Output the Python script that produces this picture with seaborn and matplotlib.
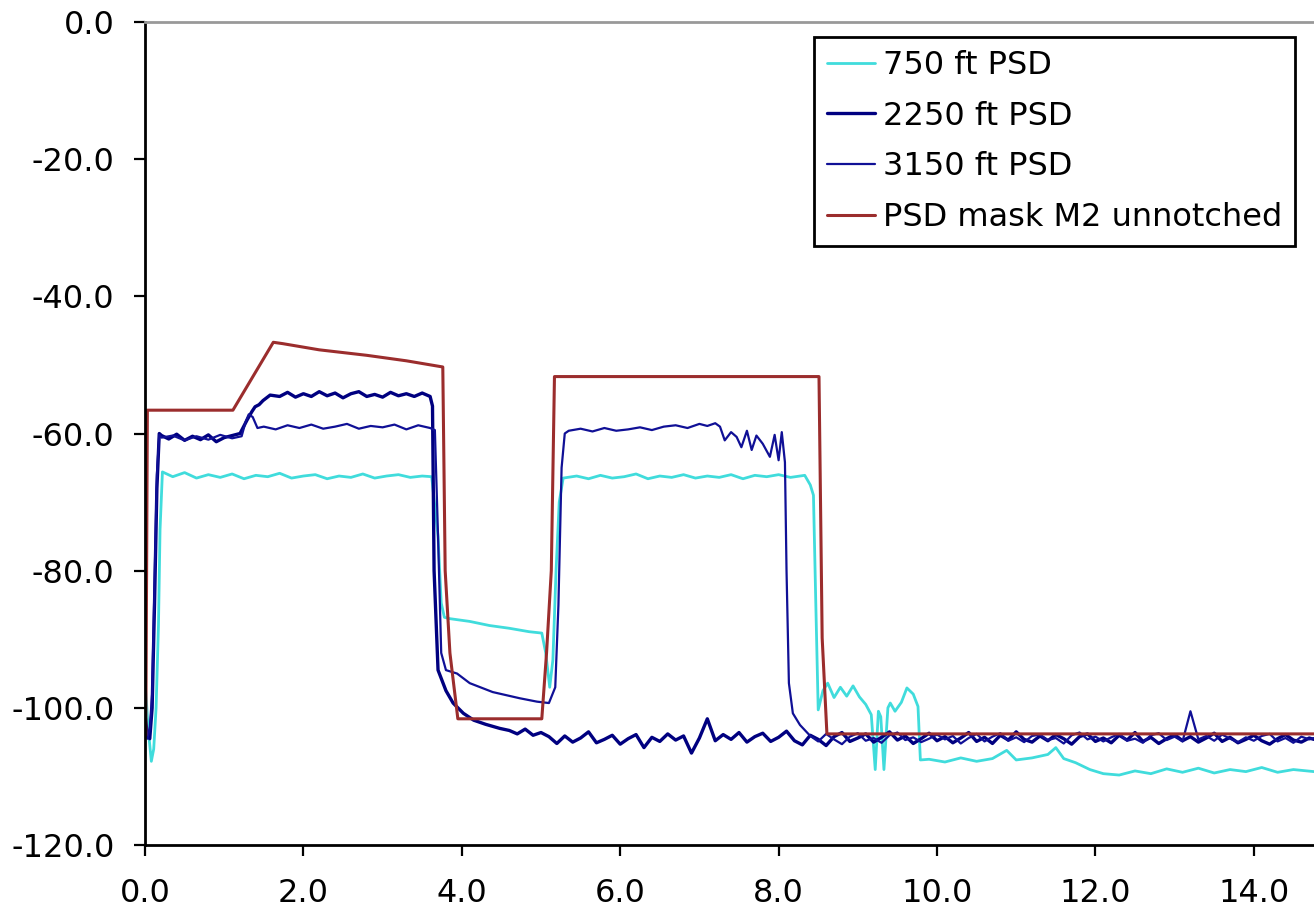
import matplotlib
matplotlib.use("Agg")
import matplotlib.pyplot as plt
import numpy as np
import pandas as pd
import seaborn as sns

##### data #####
# 750 ft PSD
psd750_x = [0.0, 0.04, 0.08, 0.11, 0.14, 0.17, 0.19, 0.22, 0.35, 0.5, 0.65, 0.8, 0.95, 1.1, 1.25, 1.4,
            1.55, 1.7, 1.85, 2.0, 2.15, 2.3, 2.45, 2.6, 2.75, 2.9, 3.05, 3.2, 3.35, 3.5, 3.62, 3.70,
            3.74, 3.78, 3.85, 4.1, 4.35, 4.6, 4.85, 5.01, 5.06, 5.11, 5.15, 5.19, 5.23, 5.28, 5.45, 5.6,
            5.75, 5.9, 6.05, 6.2, 6.35, 6.5, 6.65, 6.8, 6.95, 7.1, 7.25, 7.4, 7.55, 7.7, 7.85, 8.0,
            8.15, 8.33, 8.40, 8.44, 8.47, 8.50, 8.56, 8.62, 8.70, 8.78, 8.86, 8.94, 9.02, 9.10, 9.17, 9.22,
            9.26, 9.29, 9.33, 9.38, 9.41, 9.47, 9.55, 9.62, 9.70, 9.76, 9.79, 9.9, 10.1, 10.3, 10.5, 10.7,
            10.88, 11.0, 11.2, 11.4, 11.5, 11.6, 11.75, 11.93, 12.1, 12.3, 12.5, 12.7, 12.9, 13.1, 13.3, 13.5,
            13.7, 13.9, 14.1, 14.3, 14.5, 14.76]
psd750_y = [-96, -103, -107.8, -106, -100, -88, -74, -65.6, -66.3, -65.7, -66.5, -66.0, -66.4, -65.9, -66.6, -66.1,
            -66.3, -65.8, -66.5, -66.2, -66.0, -66.6, -66.2, -66.4, -65.9, -66.5, -66.2, -66.0, -66.4, -66.2, -66.3, -75,
            -84.7, -86.8, -87.0, -87.4, -88.0, -88.4, -88.9, -89.1, -92, -97, -93, -80, -70, -66.5, -66.2, -66.6,
            -66.1, -66.5, -66.3, -65.9, -66.6, -66.2, -66.4, -66.0, -66.5, -66.2, -66.4, -66.0, -66.6, -66.1, -66.3, -66.0,
            -66.4, -66.1, -67.5, -69, -85, -100.3, -97.5, -96.4, -98.5, -97.0, -98.3, -96.8, -98.4, -99.5, -101.0, -109,
            -100.5, -101.3, -109, -100.0, -99.3, -100.5, -99.2, -97.1, -98.0, -99.8, -107.6, -107.5, -107.9, -107.3, -107.8, -107.4,
            -106.2, -107.6, -107.3, -106.8, -105.8, -107.4, -108.0, -109.0, -109.6, -109.8, -109.2, -109.6, -108.9, -109.4, -108.8, -109.5,
            -109.0, -109.3, -108.7, -109.4, -109.0, -109.3]

# 2250 ft PSD
psd2250_x = [0.0, 0.03, 0.06, 0.09, 0.12, 0.15, 0.18, 0.21, 0.3, 0.4, 0.5, 0.6, 0.7, 0.8, 0.9, 1.0,
             1.1, 1.2, 1.29, 1.35, 1.39, 1.44, 1.49, 1.58, 1.7, 1.8, 1.9, 2.0, 2.1, 2.2, 2.3, 2.4,
             2.5, 2.6, 2.7, 2.8, 2.9, 3.0, 3.1, 3.2, 3.3, 3.4, 3.5, 3.6, 3.63, 3.65, 3.70, 3.8,
             3.89, 4.02, 4.15, 4.3, 4.48,
             4.6, 4.7, 4.8, 4.9, 5.0, 5.1, 5.2, 5.3, 5.4, 5.5, 5.6, 5.7, 5.8, 5.9, 6.0, 6.1,
             6.2, 6.3, 6.4, 6.5, 6.6, 6.7, 6.8, 6.9, 7.0, 7.1, 7.2, 7.3, 7.4, 7.5, 7.6, 7.7,
             7.8, 7.9, 8.0, 8.1, 8.2, 8.3, 8.4, 8.5, 8.6, 8.7, 8.8, 8.9, 9.0, 9.1, 9.2, 9.3,
             9.4, 9.5, 9.6, 9.7, 9.8, 9.9, 10.0, 10.1, 10.2, 10.3, 10.4, 10.5, 10.6, 10.7, 10.8, 10.9,
             11.0, 11.1, 11.2, 11.3, 11.4, 11.5, 11.6, 11.7, 11.8, 11.9, 12.0, 12.1, 12.2, 12.3, 12.4, 12.5,
             12.6, 12.7, 12.8, 12.9, 13.0, 13.1, 13.2, 13.3, 13.4, 13.5, 13.6, 13.7, 13.8, 13.9, 14.0, 14.1,
             14.2, 14.3, 14.4, 14.5, 14.6, 14.7, 14.76]
psd2250_y = [-101, -104, -104.5, -100, -85, -68, -60.0, -60.3, -60.8, -60.1, -61.0, -60.4, -60.9, -60.2, -61.2, -60.6,
             -60.3, -60.0, -58.0, -56.8, -56.1, -55.8, -55.2, -54.4, -54.6, -54.0, -54.7, -54.2, -54.6, -53.9, -54.5, -54.1,
             -54.8, -54.2, -53.9, -54.6, -54.3, -54.7, -54.0, -54.5, -54.2, -54.6, -54.1, -54.6, -56, -80, -94.5, -97.5,
             -99.3, -100.8, -101.8, -102.4, -103.0,
             -103.3, -103.8, -103.1, -104.0, -103.6, -104.2, -105.2, -104.1, -105.0, -104.4, -103.5, -105.1, -104.6, -104.0, -105.3, -104.5,
             -103.9, -105.8, -104.3, -104.9, -103.8, -104.7, -104.1, -106.6, -104.4, -101.6, -104.8, -103.9, -104.6, -103.6, -105.0, -104.2,
             -103.7, -104.9, -104.3, -103.4, -104.8, -105.4, -104.0, -104.6, -105.5, -104.2, -103.6, -104.9, -104.4, -103.8, -105.0, -104.3,
             -103.5, -104.7, -104.1, -105.2, -104.5, -103.7, -104.8, -104.2, -105.1, -104.4, -103.6, -104.9, -104.3, -105.2, -104.0, -104.7,
             -103.5, -104.6, -105.0, -104.1, -104.8, -103.9, -104.5, -105.3, -104.2, -103.8, -104.9, -104.4, -105.1, -104.0, -104.7, -103.6,
             -104.9, -104.3, -105.2, -104.5, -103.9, -104.8, -104.2, -105.0, -104.4, -103.7, -104.9, -104.3, -105.1, -104.6, -104.0, -104.8,
             -105.3, -104.5, -103.9, -104.7, -105.0, -104.4, -104.6]

# 3150 ft PSD
psd3150_x = [0.0, 0.03, 0.06, 0.09, 0.12, 0.15, 0.18, 0.21, 0.35, 0.5, 0.65, 0.8, 0.95, 1.1, 1.22, 1.27,
             1.31, 1.36, 1.42, 1.5, 1.65, 1.8, 1.95, 2.1, 2.25, 2.4, 2.55, 2.7, 2.85, 3.0, 3.15, 3.3,
             3.45, 3.6, 3.66, 3.70, 3.74, 3.80, 3.94, 4.1, 4.39, 4.73, 4.95, 5.1, 5.18, 5.22, 5.26, 5.30,
             5.35, 5.5, 5.65, 5.8, 5.95, 6.1, 6.25, 6.4, 6.55, 6.7, 6.85, 7.0, 7.1, 7.2, 7.26, 7.32,
             7.4, 7.47, 7.53, 7.6, 7.66, 7.72, 7.8, 7.89, 7.95, 8.0, 8.04, 8.08, 8.10, 8.13, 8.18, 8.27,
             8.4, 8.5, 8.6, 8.7, 8.8, 8.9, 9.0, 9.1, 9.2, 9.3, 9.4, 9.5, 9.6, 9.7, 9.8, 9.9,
             10.0, 10.1, 10.2, 10.3, 10.4, 10.5, 10.6, 10.7, 10.8, 10.9, 11.0, 11.1, 11.2, 11.3, 11.4, 11.5,
             11.6, 11.7, 11.8, 11.9, 12.0, 12.1, 12.2, 12.3, 12.4, 12.5, 12.6, 12.7, 12.8, 12.9, 13.0, 13.1,
             13.2, 13.3, 13.4, 13.5, 13.6, 13.7, 13.8, 13.9, 14.0, 14.1, 14.2, 14.3, 14.4, 14.5, 14.6, 14.7,
             14.76]
psd3150_y = [-102, -104.5, -103, -98, -82, -66, -60.2, -60.6, -60.3, -61.0, -60.4, -60.9, -60.2, -60.7, -60.4, -58.3,
             -57.2, -57.6, -59.2, -59.0, -59.4, -58.8, -59.2, -58.7, -59.3, -59.0, -58.6, -59.3, -58.9, -59.1, -58.7, -59.4,
             -58.8, -59.2, -59.5, -75, -92, -94.5, -95.0, -96.4, -97.7, -98.6, -99.1, -99.3, -97, -85, -65, -60.0,
             -59.6, -59.3, -59.7, -59.2, -59.6, -59.4, -59.1, -59.5, -59.0, -58.8, -59.2, -58.6, -58.9, -58.5, -59.0, -61.0,
             -59.8, -60.5, -62.0, -59.6, -62.4, -60.3, -61.5, -63.4, -60.2, -63.9, -59.8, -64.2, -80, -96.4, -100.8, -102.5,
             -104.1, -104.9, -103.8, -104.6, -105.3, -104.2, -103.7, -104.8, -104.4, -105.1, -104.0, -103.6, -104.7, -104.3, -105.0, -104.5,
             -103.9, -104.6, -104.1, -105.2, -104.4, -103.8, -104.9, -104.2, -103.7, -104.8, -104.3, -105.0, -104.1, -103.9, -104.7, -104.4,
             -105.2, -104.0, -103.6, -104.6, -104.2, -104.9, -104.3, -103.8, -104.8, -104.5, -105.1, -104.0, -103.7, -104.7, -104.2, -104.9,
             -100.5, -104.6, -104.1, -104.8, -103.9, -104.5, -105.0, -104.3, -104.8, -104.1, -103.8, -104.9, -104.4, -105.1, -104.2, -104.6,
             -104.4]

# PSD mask M2 unnotched
mask_x = [0.01, 0.03, 1.11, 1.62, 1.74, 2.2, 2.8, 3.3, 3.76, 3.79, 3.85, 3.95,
          5.01, 5.07, 5.13, 5.17, 8.51, 8.55, 8.61, 14.8]
mask_y = [-104.0, -56.6, -56.6, -46.7, -46.9, -47.8, -48.6, -49.4, -50.3, -80, -92, -101.6,
          -101.6, -92, -80, -51.7, -51.7, -89.8, -103.8, -103.8]

labels = ['750 ft PSD', '2250 ft PSD', '3150 ft PSD', 'PSD mask M2 unnotched']
colors = ['#40DCDC', '#000080', '#101096', '#9B2D2D']
widths = [2.0, 2.4, 1.6, 2.2]
xticks = [0, 2, 4, 6, 8, 10, 12, 14]
yticks = [0, -20, -40, -60, -80, -100, -120]

##### plot #####
sns.set_theme(style='white')
plt.rcParams['font.family'] = ['DejaVu Sans']
plt.rcParams['axes.unicode_minus'] = False
plt.rcParams['text.color'] = 'black'

fig = plt.figure(figsize=(13.14, 9.17), dpi=100)
ax = fig.add_axes([145 / 1314, 1 - 845 / 917, 1 - 145 / 1314, (845 - 22) / 917])

series = [(psd750_x, psd750_y), (psd2250_x, psd2250_y), (psd3150_x, psd3150_y), (mask_x, mask_y)]
for (xs, ys), label, color, lw in zip(series, labels, colors, widths):
    df = pd.DataFrame({'freq': xs, 'psd': ys})
    sns.lineplot(data=df, x='freq', y='psd', ax=ax, sort=False, estimator=None,
                 color=color, linewidth=lw, label=label)

ax.set_xlim(0, 14.76)
ax.set_ylim(-120, 0)
ax.set_xticks(xticks)
ax.set_yticks(yticks)
ax.set_xticklabels([f'{t:.1f}' for t in xticks])
ax.set_yticklabels([f'{t:.1f}' for t in yticks])
ax.set_xlabel('')
ax.set_ylabel('')
ax.tick_params(axis='both', direction='out', length=8, width=1.6, color='black',
               labelsize=23, labelcolor='black')
ax.tick_params(axis='x', pad=16, bottom=True)
ax.tick_params(axis='y', pad=14, left=True)

ax.spines['right'].set_visible(False)
ax.spines['top'].set_color('#999999')
ax.spines['top'].set_linewidth(2)
for side in ['left', 'bottom']:
    ax.spines[side].set_color('black')
    ax.spines[side].set_linewidth(2)

leg = ax.legend(loc='upper right', bbox_to_anchor=(1295 / 1314, 1 - 37 / 917),
                bbox_transform=fig.transFigure, fontsize=23, frameon=True, fancybox=False,
                borderpad=0.4, labelspacing=0.62, handlelength=1.5, handletextpad=0.25,
                borderaxespad=0)
leg.get_frame().set_edgecolor('black')
leg.get_frame().set_linewidth(2)
leg.get_frame().set_alpha(1)
for txt in leg.get_texts():
    txt.set_color('black')

fig.savefig('out.png', dpi=100, facecolor='white')
